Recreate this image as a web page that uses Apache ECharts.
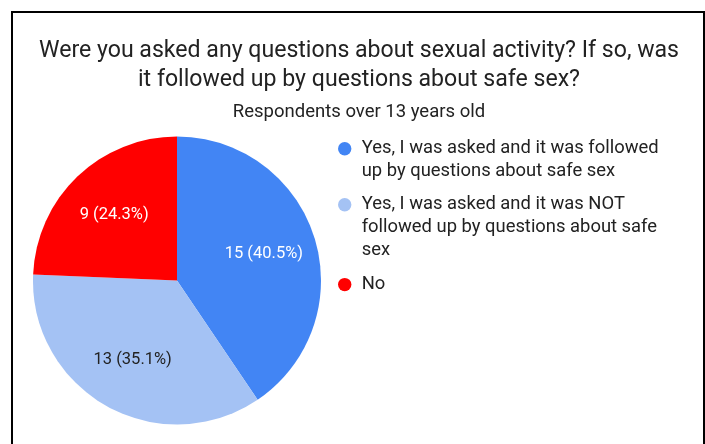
<!DOCTYPE html>
<html>
<head>
<meta charset="utf-8">
<script src="https://cdn.jsdelivr.net/npm/echarts@6/dist/echarts.min.js"></script>
<style>
  html, body { margin: 0; padding: 0; background: #fff; }
  #chart { width: 705px; height: 444px; }
</style>
</head>
<body>
<div id="chart"></div>
<script>
// Survey answers and respondent counts
const categories = [
  'Yes, I was asked and it was followed up by questions about safe sex',
  'Yes, I was asked and it was NOT followed up by questions about safe sex',
  'No'
];
const counts = [15, 13, 9];
const colors = ['#4285F4', '#A4C2F4', '#FF0000'];

const titleText = 'Were you asked any questions about sexual activity? If so, was\nit followed up by questions about safe sex?';
const subtitleText = 'Respondents over 13 years old';

const FONT = 'Roboto, "Noto Sans", sans-serif';
const TEXT_COLOR = '#222222';
const LINE_H = 23;
const PIE_CENTER = [177, 280.5];
const PIE_R = 144;

const total = counts.reduce((a, b) => a + b, 0);
const labelColors = ['#ffffff', TEXT_COLOR, '#ffffff'];

// One legend block per answer. The legend centres its text on the dot,
// so (lines - 1) empty lines are put in front to bring the first real
// line level with the dot.
const legendLines = [2, 3, 1];
const legendTops = [114.3, 147.3, 273.1];

const chart = echarts.init(document.getElementById('chart'), null, { renderer: 'canvas' });

const legends = categories.map((name, i) => ({
  orient: 'vertical',
  left: 338,
  top: legendTops[i],
  padding: 0,
  icon: 'circle',
  itemWidth: 24,
  itemHeight: 13.4,
  selectedMode: false,
  data: [name],
  formatter: n => '\n'.repeat(legendLines[i] - 1) + n,
  textStyle: {
    fontFamily: FONT,
    fontSize: 18.4,
    lineHeight: LINE_H,
    color: TEXT_COLOR,
    width: 312,
    overflow: 'break'
  }
}));

chart.setOption({
  backgroundColor: '#ffffff',
  animation: false,
  title: {
    text: titleText,
    subtext: subtitleText,
    left: 359,
    top: 37,
    textAlign: 'center',
    padding: 0,
    itemGap: 7.5,
    textStyle: {
      fontFamily: FONT,
      fontSize: 23.1,
      fontWeight: 'normal',
      lineHeight: 28.5,
      color: TEXT_COLOR
    },
    subtextStyle: {
      fontFamily: FONT,
      fontSize: 18.5,
      lineHeight: 22,
      color: TEXT_COLOR
    }
  },
  legend: legends,
  graphic: [{
    type: 'rect',
    silent: true,
    shape: { x: 12, y: 12, width: 692, height: 500 },
    style: { fill: 'none', stroke: '#000000', lineWidth: 2 }
  }],
  series: [{
    // the slices
    type: 'pie',
    center: PIE_CENTER,
    radius: PIE_R,
    startAngle: 90,
    clockwise: true,
    emphasis: { disabled: true },
    itemStyle: { borderWidth: 0 },
    label: { show: false },
    labelLine: { show: false },
    data: categories.map((name, i) => ({
      name: name,
      value: counts[i],
      itemStyle: { color: colors[i] }
    }))
  }, {
    // transparent ring carrying the value labels a little further out
    type: 'pie',
    center: PIE_CENTER,
    radius: [PIE_R * 0.22, PIE_R],
    startAngle: 90,
    clockwise: true,
    silent: true,
    legendHoverLink: false,
    emphasis: { disabled: true },
    itemStyle: { color: 'rgba(0,0,0,0)', borderWidth: 0 },
    label: {
      show: true,
      position: 'inside',
      fontFamily: FONT,
      fontSize: 16.5,
      formatter: p => p.value + ' (' + (p.value / total * 100).toFixed(1) + '%)'
    },
    labelLine: { show: false },
    data: categories.map((name, i) => ({
      name: name,
      value: counts[i],
      label: { color: labelColors[i] }
    }))
  }]
});
</script>
</body>
</html>
